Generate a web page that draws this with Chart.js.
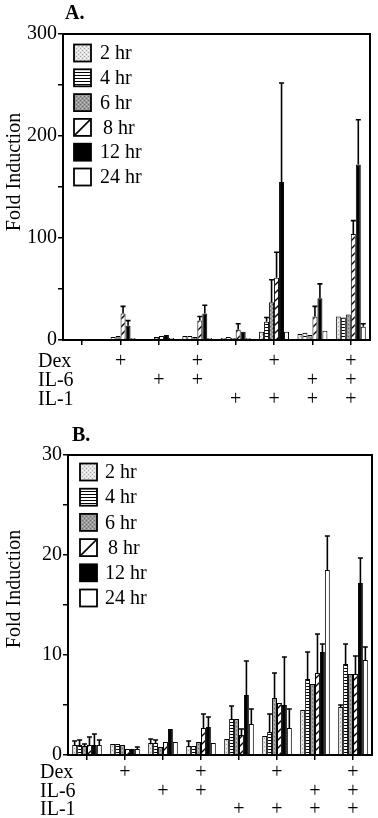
<!DOCTYPE html>
<html><head><meta charset="utf-8">
<script src="https://cdn.jsdelivr.net/npm/chart.js@4/dist/chart.umd.min.js"></script>
<style>
html,body{margin:0;padding:0;background:#fff;}
#wrap{position:relative;width:378px;height:818px;overflow:hidden;}
.c{position:absolute;left:0;width:378px;}
#ca{top:0;height:410px;}
#cb{top:410px;height:408px;}
</style></head><body>
<div id="wrap">
  <div class="c" id="ca"><canvas id="chartA"></canvas></div>
  <div class="c" id="cb"><canvas id="chartB"></canvas></div>
</div>
<script>
// ---------- data ----------
const categories = ['Control', 'Dex', 'IL-6', 'Dex+IL-6', 'IL-1', 'Dex+IL-1', 'IL-6+IL-1', 'Dex+IL-6+IL-1'];
const seriesNames = ['2 hr', '4 hr', '6 hr', '8 hr', '12 hr', '24 hr'];
const rowNames = ['Dex', 'IL-6', 'IL-1'];
const dexRow = ['', '+', '', '+', '', '+', '', '+'];
const il6Row = ['', '', '+', '+', '', '', '+', '+'];
const il1Row = ['', '', '', '', '+', '+', '+', '+'];

const yTicksA = [0, 100, 200, 300];
const yTicksB = [0, 10, 20, 30];

// Panel A values
const A_2hr  = [1, 1, 1, 4, 2, 8, 6, 23];
const A_4hr  = [1, 3, 1, 4, 3, 18, 7, 22];
const A_6hr  = [1, 4, 3, 3, 2, 37, 5, 25];
const A_8hr  = [1, 26, 4, 19, 10, 61, 23, 104];
const A_12hr = [1, 14, 5, 26, 8, 155, 41, 172];
const A_24hr = [1, 2, 2, 2, 2, 8, 9, 13];
// Panel A error (upper SD)
const A_2hr_err  = [0, 0, 0, 0, 0, 0, 0, 0];
const A_4hr_err  = [0, 0, 0, 0, 0, 4, 0, 0];
const A_6hr_err  = [0, 0, 0, 0, 0, 22, 0, 0];
const A_8hr_err  = [0, 7, 0, 4, 6, 25, 10, 13];
const A_12hr_err = [0, 5, 0, 8, 0, 97, 14, 44];
const A_24hr_err = [0, 0, 0, 0, 0, 0, 0, 3];

// Panel B values
const B_2hr  = [1.0, 1.1, 1.2, 0.9, 1.6, 1.9, 4.5, 4.8];
const B_4hr  = [1.0, 1.1, 1.2, 0.9, 3.6, 2.3, 7.6, 9.1];
const B_6hr  = [0.9, 1.0, 0.8, 1.3, 3.6, 5.7, 7.1, 8.1];
const B_8hr  = [1.0, 0.6, 1.3, 2.7, 2.0, 5.2, 8.2, 8.1];
const B_12hr = [1.0, 0.6, 2.6, 2.8, 6.0, 5.0, 10.3, 17.2];
const B_24hr = [1.0, 0.6, 1.3, 1.2, 3.1, 2.7, 18.5, 9.5];
// Panel B error (upper SD)
const B_2hr_err  = [0.4, 0, 0.4, 0.5, 0, 0, 0, 0.2];
const B_4hr_err  = [0.5, 0, 0.3, 0, 1.3, 1.8, 2.7, 2.0];
const B_6hr_err  = [0.2, 0, 0, 0, 0, 2.5, 0, 0];
const B_8hr_err  = [0.8, 0, 0, 1.4, 0.6, 0, 3.9, 1.8];
const B_12hr_err = [1.1, 0, 0, 1.0, 3.4, 4.8, 0.8, 2.5];
const B_24hr_err = [0.5, 0.2, 0, 0, 1.5, 1.9, 3.4, 1.3];

// ---------- styles ----------
const FONT = "'Liberation Serif', 'Times New Roman', serif";

function makePattern(kind) {
  const c = document.createElement('canvas');
  const x = c.getContext('2d');
  if (kind === 'light') {
    c.width = c.height = 4;
    x.fillStyle = '#e2e2e2'; x.fillRect(0, 0, 4, 4);
    x.fillStyle = '#a5a5a5'; x.fillRect(0, 0, 1, 1); x.fillRect(2, 2, 1, 1);
    x.fillStyle = '#ffffff'; x.fillRect(2, 0, 1, 1); x.fillRect(0, 2, 1, 1);
  } else if (kind === 'hlines') {
    c.width = 4; c.height = 3;
    x.fillStyle = '#fff'; x.fillRect(0, 0, 4, 3);
    x.fillStyle = '#000'; x.fillRect(0, 0, 4, 1);
  } else if (kind === 'gray') {
    c.width = c.height = 4;
    x.fillStyle = '#9a9a9a'; x.fillRect(0, 0, 4, 4);
    x.fillStyle = '#6a6a6a'; x.fillRect(0, 0, 1, 1); x.fillRect(2, 2, 1, 1);
    x.fillStyle = '#c4c4c4'; x.fillRect(2, 0, 1, 1); x.fillRect(0, 2, 1, 1);
  } else if (kind === 'diag') {
    const s = 8;
    c.width = c.height = s;
    x.fillStyle = '#fff'; x.fillRect(0, 0, s, s);
    x.strokeStyle = '#000'; x.lineWidth = 1.4;
    x.beginPath();
    x.moveTo(-1, s + 1); x.lineTo(s + 1, -1);
    x.moveTo(-1, 1); x.lineTo(1, -1);
    x.moveTo(s - 1, s + 1); x.lineTo(s + 1, s - 1);
    x.stroke();
  }
  return x.createPattern(c, 'repeat');
}
const fills = [makePattern('light'), makePattern('hlines'), makePattern('gray'), makePattern('diag'), '#000000', '#ffffff'];
const legendKinds = ['pattern', 'pattern', 'pattern', 'diag', 'solid', 'solid'];

function buildDatasets(vals, errs) {
  return seriesNames.map((n, i) => ({
    label: n,
    data: vals[i],
    err: errs[i],
    backgroundColor: fills[i],
    borderColor: '#000',
    borderWidth: 1,
    borderSkipped: 'start',
    barPercentage: 1.0,
    categoryPercentage: 0.78
  }));
}

// ---------- plugin for error bars, frame, legend, labels ----------
const decor = {
  id: 'decor',
  afterDatasetsDraw(chart, args, o) {
    const ctx = chart.ctx, ys = chart.scales.y;
    ctx.save();
    ctx.strokeStyle = '#000'; ctx.lineWidth = 1.6;
    chart.data.datasets.forEach((ds, i) => {
      const meta = chart.getDatasetMeta(i);
      meta.data.forEach((el, j) => {
        const e = ds.err[j];
        if (!e) return;
        const top = ys.getPixelForValue(ds.data[j] + e);
        ctx.beginPath();
        ctx.moveTo(el.x, el.y); ctx.lineTo(el.x, top);
        ctx.moveTo(el.x - 2.5, top); ctx.lineTo(el.x + 2.5, top);
        ctx.stroke();
      });
    });
    ctx.restore();
  },
  afterDraw(chart, args, o) {
    const ctx = chart.ctx, a = chart.chartArea, xs = chart.scales.x;
    ctx.save();
    // frame
    ctx.strokeStyle = '#000'; ctx.lineWidth = 2;
    ctx.strokeRect(a.left, a.top, a.right - a.left, a.bottom - a.top);
    // legend
    ctx.font = '20px ' + FONT;
    ctx.textBaseline = 'middle'; ctx.textAlign = 'left'; ctx.fillStyle = '#000';
    chart.data.datasets.forEach((ds, i) => {
      const cy = a.top + o.legY0 + i * o.legDY;
      const bx = a.left + o.legX, by = cy - 8.5, bs = 17;
      if (legendKinds[i] === 'diag') {
        ctx.fillStyle = '#fff'; ctx.fillRect(bx, by, bs, bs);
        ctx.beginPath(); ctx.lineWidth = 1.6;
        ctx.moveTo(bx + 1, by + bs - 1); ctx.lineTo(bx + bs - 1, by + 1); ctx.stroke();
      } else {
        ctx.fillStyle = ds.backgroundColor; ctx.fillRect(bx, by, bs, bs);
      }
      ctx.lineWidth = 1.8; ctx.strokeStyle = '#000';
      ctx.strokeRect(bx, by, bs, bs);
      ctx.fillStyle = '#000';
      ctx.fillText(ds.label, a.left + o.legTextX + (i === 3 ? 3 : 0), cy + 1);
    });
    // row names under x axis
    rowNames.forEach((r, i) => {
      ctx.fillText(r, o.rowX, xs.top + o.rowOff + i * o.rowLH);
    });
    // panel letter
    ctx.font = 'bold 20px ' + FONT;
    ctx.textBaseline = 'alphabetic';
    ctx.fillText(o.letter, o.letterX, o.letterY);
    // y title
    ctx.font = '20px ' + FONT;
    ctx.translate(o.titleX, (a.top + a.bottom) / 2 + o.titleDY);
    ctx.rotate(-Math.PI / 2);
    ctx.textAlign = 'center'; ctx.textBaseline = 'middle';
    ctx.fillText('Fold Induction', 0, 0);
    ctx.restore();
  }
};

function makeChart(id, vals, errs, yMax, step, yTicks, cfg) {
  const L = cfg.lh * 20;
  return new Chart(document.getElementById(id), {
    type: 'bar',
    data: { labels: categories, datasets: buildDatasets(vals, errs) },
    options: {
      responsive: true, maintainAspectRatio: false, animation: false,
      layout: { padding: { top: cfg.padTop, right: cfg.padRight, left: 0, bottom: 0 } },
      plugins: {
        legend: { display: false }, tooltip: { enabled: false },
        decor: {
          legX: cfg.legX, legTextX: cfg.legTextX, legY0: cfg.legY0, legDY: cfg.legDY,
          rowX: cfg.rowX, rowOff: 5 + cfg.tickPad + L / 2, rowLH: L,
          letter: cfg.letter, letterX: cfg.letterX, letterY: cfg.letterY,
          titleX: 15, titleDY: cfg.titleDY
        }
      },
      scales: {
        x: {
          offset: true,
          afterFit: s => { s.height = cfg.xH; },
          grid: { display: true, drawOnChartArea: false, drawTicks: true, tickLength: 5, offset: false, color: '#000', lineWidth: 1.5 },
          border: { display: true, color: '#000', width: 2 },
          ticks: {
            autoSkip: false, maxRotation: 0, minRotation: 0, color: '#000', padding: cfg.tickPad,
            font: { family: FONT, size: 20, lineHeight: cfg.lh },
            callback: (v, i) => [dexRow[i], il6Row[i], il1Row[i]]
          }
        },
        y: {
          min: 0, max: yMax,
          afterFit: s => { s.width = cfg.yW; },
          grid: { display: true, drawOnChartArea: false, drawTicks: true, tickLength: 5, color: '#000', lineWidth: 1.5 },
          border: { display: true, color: '#000', width: 2 },
          ticks: {
            stepSize: step, color: '#000', padding: 1,
            font: { family: FONT, size: 20 },
            callback: v => (yTicks.includes(v) ? String(v) : '')
          }
        }
      }
    },
    plugins: [decor]
  });
}

makeChart('chartA',
  [A_2hr, A_4hr, A_6hr, A_8hr, A_12hr, A_24hr],
  [A_2hr_err, A_4hr_err, A_6hr_err, A_8hr_err, A_12hr_err, A_24hr_err],
  300, 50, yTicksA,
  { padTop: 34, padRight: 8, yW: 63, xH: 70, tickPad: 7.5, lh: 0.95,
    legX: 11, legTextX: 37, legY0: 19, legDY: 24.8, rowX: 38,
    letter: 'A.', letterX: 65, letterY: 19, titleDY: -15 });

makeChart('chartB',
  [B_2hr, B_4hr, B_6hr, B_8hr, B_12hr, B_24hr],
  [B_2hr_err, B_4hr_err, B_6hr_err, B_8hr_err, B_12hr_err, B_24hr_err],
  30, 5, yTicksB,
  { padTop: 45, padRight: 6, yW: 68, xH: 63, tickPad: 3.75, lh: 0.925,
    legX: 12, legTextX: 37, legY0: 17, legDY: 25.2, rowX: 40,
    letter: 'B.', letterX: 72, letterY: 31, titleDY: -16 });
</script>
</body></html>
